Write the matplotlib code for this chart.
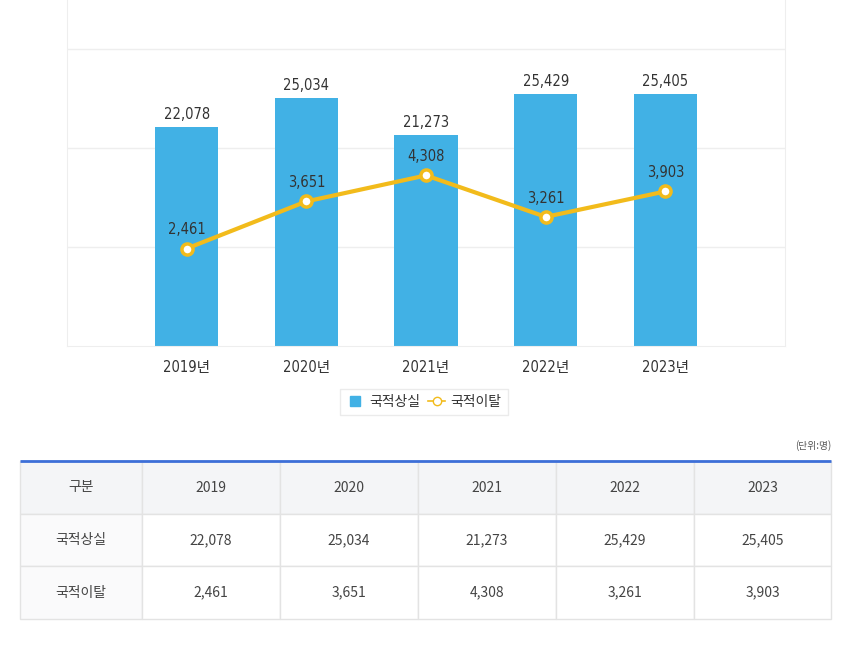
import matplotlib
matplotlib.use('Agg')
import matplotlib.pyplot as plt
from matplotlib.lines import Line2D
from matplotlib.patches import Rectangle
from matplotlib import font_manager
import numpy as np

plt.rcParams['font.family'] = ['Noto Sans CJK KR', 'DejaVu Sans']

# data
years = ['2019', '2020', '2021', '2022', '2023']
loss = [22078, 25034, 21273, 25429, 25405]        # 국적상실
renounce = [2461, 3651, 4308, 3261, 3903]         # 국적이탈
series_names = ['국적상실', '국적이탈']
row_header = '구분'
unit_note = '(단위:명)'

BAR_COLOR = '#41b1e5'
LINE_COLOR = '#f2bb1b'
TEXT = '#333333'

# a condensed face for the chart labels, if one is installed
cond = [f for f in font_manager.fontManager.ttflist
        if 'condensed' in str(f.stretch).lower() or 'narrow' in f.name.lower()
        or 'condensed' in f.fname.lower()]
if cond:
    NARROW = dict(family=[cond[0].name, 'Noto Sans CJK KR'],
                  fontstretch=cond[0].stretch)
else:
    NARROW = dict(family=['Noto Sans CJK KR'])

W, H = 850, 649
fig = plt.figure(figsize=(W / 100, H / 100), dpi=100)
fig.patch.set_facecolor('white')


def px_axes(x0, y0, x1, y1):
    # pixel box (top-left origin) -> axes
    return fig.add_axes([x0 / W, 1 - y1 / H, (x1 - x0) / W, (y1 - y0) / H])


# ---- chart ----
ax = px_axes(67, 0, 785, 346)
x = np.arange(1, len(years) + 1)
ax2 = ax.twinx()

ax.set_xlim(0, len(years) + 1)
ax.set_ylim(0, 34950)
ax.set_yticks([10000, 20000, 30000])
ax.yaxis.grid(True, color='#eeeeee', linewidth=1)
ax.set_axisbelow(True)
ax.tick_params(axis='y', left=False, right=False, labelleft=False,
               labelright=False)
ax.tick_params(axis='x', length=0, pad=10)
ax.spines['top'].set_visible(False)
for s in ['left', 'right', 'bottom']:
    ax.spines[s].set_color('#eeeeee')

ax.bar(x, loss, width=0.53, color=BAR_COLOR, zorder=2)
for xi, v in zip(x, loss):
    ax.annotate(f'{v:,}', (xi, v), xytext=(0, 4), textcoords='offset points',
                ha='center', va='bottom', fontsize=10.5, color=TEXT,
                **NARROW)
ax.set_xticks(x)
ax.set_xticklabels([f'{y}년' for y in years], fontsize=10.5, color=TEXT,
                   **NARROW)

ax2.set_ylim(0, 34950 / 4)
ax2.axis('off')
ax2.plot(x, renounce, color=LINE_COLOR, linewidth=3, marker='o',
         markersize=8, markerfacecolor='white', markeredgecolor=LINE_COLOR,
         markeredgewidth=2.5, zorder=3)
for xi, v in zip(x, renounce):
    ax2.annotate(f'{v:,}', (xi, v), xytext=(0, 8), textcoords='offset points',
                 ha='center', va='bottom', fontsize=10.5, color=TEXT,
                 **NARROW)

handles = [
    Line2D([], [], marker='s', linestyle='none', markersize=7,
           markerfacecolor=BAR_COLOR, markeredgecolor=BAR_COLOR),
    Line2D([], [], color=LINE_COLOR, linewidth=1.2, marker='o', markersize=6,
           markerfacecolor='white', markeredgecolor=LINE_COLOR),
]
leg = fig.legend(handles, series_names, loc='center', ncol=2,
                 bbox_to_anchor=(424 / W, 1 - 402 / H), frameon=True,
                 fontsize=10, handlelength=1.2, handletextpad=0.4,
                 columnspacing=0.6, borderpad=0.45, fancybox=False)
leg.get_frame().set_edgecolor('#e6e6e6')
leg.get_frame().set_linewidth(1)
for t in leg.get_texts():
    t.set_color(TEXT)

# ---- table ----
col_edges = [20, 142, 280, 418, 556, 694, 831]
row_edges = [461, 514, 566, 619]
tax = px_axes(0, 0, W, H)
tax.set_xlim(0, W)
tax.set_ylim(H, 0)
tax.axis('off')

rows = [[row_header] + years,
        [series_names[0]] + [f'{v:,}' for v in loss],
        [series_names[1]] + [f'{v:,}' for v in renounce]]

for r in range(len(rows)):
    for c in range(len(col_edges) - 1):
        x0, x1 = col_edges[c], col_edges[c + 1]
        y0, y1 = row_edges[r], row_edges[r + 1]
        if r == 0:
            fc = '#f4f5f7'
        elif c == 0:
            fc = '#fafafb'
        else:
            fc = 'white'
        tax.add_patch(Rectangle((x0, y0), x1 - x0, y1 - y0, facecolor=fc,
                                edgecolor='#e3e3e3', linewidth=1))
        tax.text((x0 + x1) / 2, (y0 + y1) / 2, rows[r][c], ha='center',
                 va='center', fontsize=10, color='#444444')

tax.plot([col_edges[0], col_edges[-1]], [row_edges[0], row_edges[0]],
         color='#3d6fd8', linewidth=2, solid_capstyle='butt')
tax.text(col_edges[-1], 446, unit_note, ha='right', va='center', fontsize=7,
         color='#555555')

fig.savefig('out.png', dpi=100, facecolor='white')
